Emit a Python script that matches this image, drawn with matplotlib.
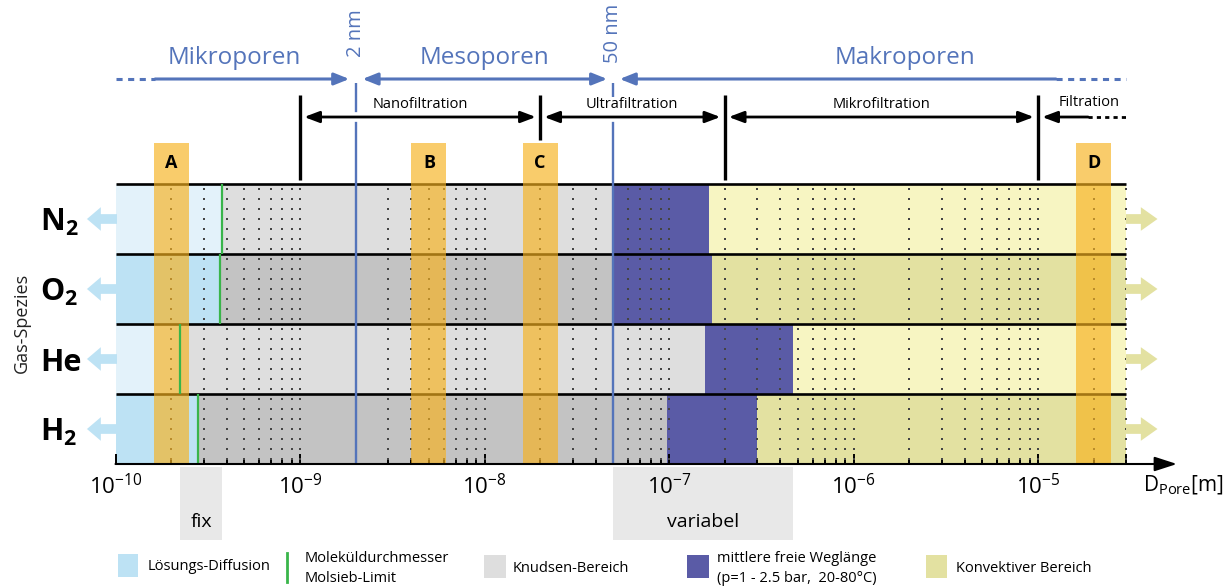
import matplotlib.pyplot as plt
import numpy as np
from matplotlib.patches import Rectangle
from matplotlib.ticker import NullFormatter

plt.rcParams['font.family'] = ['Open Sans', 'DejaVu Sans']

# rows from bottom to top
species = [r'$\mathregular{H_2}$', 'He', r'$\mathregular{O_2}$', r'$\mathregular{N_2}$']
mol_diam = [2.8e-10, 2.25e-10, 3.7e-10, 3.8e-10]      # Moleküldurchmesser [m]
knudsen_end = [9.8e-8, 1.57e-7, 5.0e-8, 5.0e-8]       # Beginn mittlere freie Weglänge
mfp_end = [3.0e-7, 4.7e-7, 1.71e-7, 1.65e-7]          # Ende mittlere freie Weglänge
d_min, d_max = 1e-10, 3e-5

pore_bounds = [2e-9, 5e-8]
pore_bound_labels = ['2 nm', '50 nm']
pore_names = ['Mikroporen', 'Mesoporen', 'Makroporen']
pore_name_x = [4.4e-10, 1e-8, 1.9e-6]

filt_bounds = [1e-9, 2e-8, 2e-7, 1e-5]
filt_names = ['Nanofiltration', 'Ultrafiltration', 'Mikrofiltration', 'Filtration']

band_labels = ['A', 'B', 'C', 'D']
band_centers = [2e-10, 5e-9, 2e-8, 2e-5]

major_ticks = [1e-10, 1e-9, 1e-8, 1e-7, 1e-6, 1e-5, 3e-5]
major_labels = [r'$\mathregular{10^{-10}}$', r'$\mathregular{10^{-9}}$', r'$\mathregular{10^{-8}}$',
                r'$\mathregular{10^{-7}}$', r'$\mathregular{10^{-6}}$', r'$\mathregular{10^{-5}}$', '']
minor_ticks = [m * 10.0 ** e for e in range(-10, -5) for m in range(2, 10)] + [2e-5]

# colours
diff_c = ['#bde2f4', '#e3f2fa']
knud_c = ['#c3c3c3', '#dedede']
conv_c = ['#e3e1a1', '#f7f5c2']
mfp_c = '#5a5ba6'
green = '#39b54a'
blue = '#5474ba'
band_c = '#f7b21e'

W, H, DPI = 1225, 587, 100
fig = plt.figure(figsize=(W / DPI, H / DPI), dpi=DPI)

# pixel overlay for legend and side labels
lay = fig.add_axes([0, 0, 1, 1], zorder=-1)
lay.set_xlim(0, W)
lay.set_ylim(H, 0)
lay.axis('off')

x_lo, x_hi = 1e-10, 10 ** -4.247
px0, px_dec = 115.5, 184.5
ax_w = (np.log10(x_hi) - np.log10(x_lo)) * px_dec
ax = fig.add_axes([px0 / W, (H - 464) / H, ax_w / W, 280 / H])
ax.set_xscale('log')
ax.set_xlim(x_lo, x_hi)
ax.set_ylim(0, 4)
ax.patch.set_visible(False)
for s in ax.spines.values():
    s.set_visible(False)

# transport regimes per gas
for i in range(4):
    k = i % 2
    segs = [(d_min, mol_diam[i], diff_c[k]),
            (mol_diam[i], knudsen_end[i], knud_c[k]),
            (knudsen_end[i], mfp_end[i], mfp_c),
            (mfp_end[i], d_max, conv_c[k])]
    for a, b, c in segs:
        ax.barh(i, b - a, left=a, height=1, align='edge', color=c, lw=0, zorder=1)
    ax.vlines(mol_diam[i], i, i + 1, color=green, lw=1.6, zorder=3.5)

# dotted grid at every tick position
grid_x = [t for t in sorted(major_ticks + minor_ticks) if t > d_min]
dot_y = np.concatenate([i + (np.arange(7) * 10 + 5) / 70 for i in range(4)])
gx, gy = np.meshgrid(grid_x, dot_y)
ax.scatter(gx.ravel(), gy.ravel(), marker='s', s=0.8, c='#444444', lw=0, zorder=2)

ax.hlines([1, 2, 3, 4], d_min, d_max, color='black', lw=1.9, zorder=2.5, clip_on=False)

# x axis with arrow
ax.annotate('', xy=(1.0, 0), xycoords='axes fraction', xytext=(0, 0), textcoords='axes fraction',
            arrowprops=dict(arrowstyle='-|>,head_length=0.68,head_width=0.22', mutation_scale=20,
                            lw=1.5, color='black', shrinkA=0, shrinkB=0), zorder=5, annotation_clip=False)
ax.set_xticks(major_ticks, labels=major_labels)
ax.set_xticks(minor_ticks, minor=True)
ax.xaxis.set_minor_formatter(NullFormatter())
ax.tick_params(axis='x', which='both', direction='in', color='black', width=1.4, top=False)
ax.tick_params(axis='x', which='major', length=7.5, pad=7, labelsize=16)
ax.tick_params(axis='x', which='minor', length=4)
ax.tick_params(axis='y', left=False, labelleft=False)

ax.text(0.968, -0.386, r'$\mathregular{D_{Pore}}$[m]', transform=ax.get_yaxis_transform(),
        ha='left', va='baseline', fontsize=15)

# fixed / variable ranges below the axis
for a, b, lab in [(min(mol_diam), max(mol_diam), 'fix'),
                  (min(knudsen_end), max(mfp_end), 'variabel')]:
    ax.add_patch(Rectangle((a, -1.086), b - a, 1.043, color='#e8e8e8', lw=0, zorder=0.5, clip_on=False))
    ax.text(np.sqrt(a * b), -0.83, lab, ha='center', va='center', fontsize=14, zorder=3, clip_on=False)

# highlighted pore sizes
for lab, c in zip(band_labels, band_centers):
    a, b = c / 10 ** 0.095, c * 10 ** 0.095
    ax.add_patch(Rectangle((a, 0), b - a, 4.586, color=band_c, alpha=0.66, lw=0, zorder=3, clip_on=False))
    ax.text(c, 4.3, lab, ha='center', va='center', fontsize=13, fontweight='bold', zorder=4, clip_on=False)

# IUPAC pore classes
for b, lab in zip(pore_bounds, pore_bound_labels):
    ax.vlines(b, 0, 5.44, color=blue, lw=1.7, zorder=2.6, clip_on=False)
    ax.text(b, 6.15, lab, rotation=90, ha='center', va='center', color=blue, fontsize=14.5, clip_on=False)
for x, lab in zip(pore_name_x, pore_names):
    ax.text(x, 5.714, lab, ha='center', va='baseline', color=blue, fontsize=17.5, clip_on=False)

y_p = 5.5
head = 'head_length=0.45,head_width=0.18'
ax.plot([d_min, 1.64e-10], [y_p, y_p], color=blue, lw=2.2, ls=(0, (2, 1.8)), clip_on=False)
ax.annotate('', xy=(pore_bounds[0], y_p), xytext=(1.64e-10, y_p), annotation_clip=False,
            arrowprops=dict(arrowstyle='-|>,' + head, color=blue, lw=2.2, shrinkA=0, shrinkB=4.5,
                            mutation_scale=20))
ax.annotate('', xy=(pore_bounds[1], y_p), xytext=(pore_bounds[0], y_p), annotation_clip=False,
            arrowprops=dict(arrowstyle='<|-|>,' + head, color=blue, lw=2.2, shrinkA=5, shrinkB=4.5,
                            mutation_scale=20))
ax.annotate('', xy=(pore_bounds[1], y_p), xytext=(1.25e-5, y_p), annotation_clip=False,
            arrowprops=dict(arrowstyle='-|>,' + head, color=blue, lw=2.2, shrinkA=0, shrinkB=4.5,
                            mutation_scale=20))
ax.plot([1.25e-5, d_max], [y_p, y_p], color=blue, lw=2.2, ls=(0, (2, 1.8)), clip_on=False)

# filtration ranges; a white strip keeps the class lines from running through the arrows
y_f = 4.957
ax.hlines(y_f, filt_bounds[0], d_max, color='white', lw=7, zorder=2.8, clip_on=False)
fhead = 'head_length=0.45,head_width=0.17'
for a, b in zip(filt_bounds[:-1], filt_bounds[1:]):
    ax.annotate('', xy=(b, y_f), xytext=(a, y_f), annotation_clip=False, zorder=3,
                arrowprops=dict(arrowstyle='<|-|>,' + fhead, color='black', lw=2.0,
                                shrinkA=3, shrinkB=3, mutation_scale=20))
ax.annotate('', xy=(filt_bounds[-1], y_f), xytext=(1.87e-5, y_f), annotation_clip=False, zorder=3,
            arrowprops=dict(arrowstyle='-|>,' + fhead, color='black', lw=2.0,
                            shrinkA=0, shrinkB=3, mutation_scale=20))
ax.plot([1.87e-5, d_max], [y_f, y_f], color='black', lw=2.0, ls=(0, (1.5, 1.5)), zorder=3, clip_on=False)

label_edges = filt_bounds + [3.6e-5]
for k, name in enumerate(filt_names):
    x = np.sqrt(label_edges[k] * label_edges[k + 1])
    ax.text(x, 5.08 if k < 3 else 5.12, name, ha='center', va='baseline', fontsize=10.5, zorder=4,
            clip_on=False, bbox=dict(fc='white', ec='none', pad=0.5))

for b in filt_bounds:
    near_band = any(abs(np.log10(b / c)) < 0.1 for c in band_centers)
    ax.vlines(b, 4.63 if near_band else 4.057, 5.271, color='black', lw=2.4, zorder=4, clip_on=False)

# gas species labels and arrows
ytr = ax.get_yaxis_transform()
for i, name in enumerate(species):
    yc = i + 0.5
    ax.text(-0.0711, yc - 0.17, name, transform=ytr, ha='left', va='baseline', fontsize=22,
            fontweight='bold', clip_on=False)
    ax.annotate('', xy=(-0.0269, yc), xycoords=ytr, xytext=(0.0014, yc), textcoords=ytr,
                annotation_clip=False,
                arrowprops=dict(arrowstyle='simple,head_length=10,head_width=17,tail_width=7',
                                mutation_scale=1, color=diff_c[0], lw=0, shrinkA=0, shrinkB=0))
    ax.annotate('', xy=(0.9817, yc), xycoords=ytr, xytext=(d_max, yc), textcoords='data',
                annotation_clip=False,
                arrowprops=dict(arrowstyle='simple,head_length=12,head_width=17,tail_width=7',
                                mutation_scale=1, color=conv_c[0], lw=0, shrinkA=0, shrinkB=0))

lay.text(22, 323, 'Gas-Spezies', rotation=90, ha='center', va='center', fontsize=13, color='#222222')

# legend
fs = 10.5
lay.add_patch(Rectangle((118, 554), 20, 23, color=diff_c[0], lw=0))
lay.text(148, 566, 'Lösungs-Diffusion', va='center', fontsize=fs)
lay.plot([287, 287], [553, 582], color=green, lw=2)
lay.text(305, 559, 'Moleküldurchmesser', va='center', fontsize=fs)
lay.text(305, 578, 'Molsieb-Limit', va='center', fontsize=fs)
lay.add_patch(Rectangle((484, 555), 22, 23, color=knud_c[1], lw=0))
lay.text(513, 568, 'Knudsen-Bereich', va='center', fontsize=fs)
lay.add_patch(Rectangle((687, 555), 22, 23, color=mfp_c, lw=0))
lay.text(717, 559, 'mittlere freie Weglänge', va='center', fontsize=fs)
lay.text(717, 578, '(p=1 - 2.5 bar,  20-80°C)', va='center', fontsize=fs)
lay.add_patch(Rectangle((926, 555), 21, 23, color=conv_c[0], lw=0))
lay.text(956, 568, 'Konvektiver Bereich', va='center', fontsize=fs)

fig.savefig('out.png', dpi=DPI)
